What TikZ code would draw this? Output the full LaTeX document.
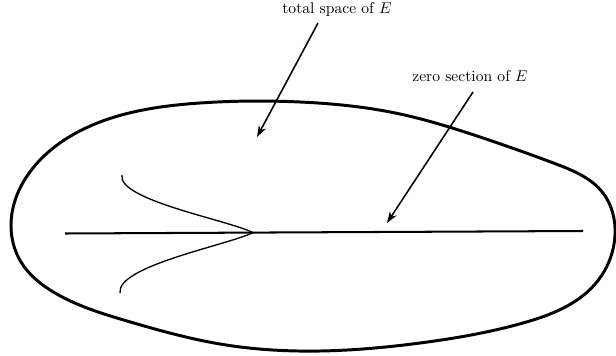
\documentclass[tikz,border=0pt]{standalone}
\usepackage{amsmath}
\usepackage{tikz}
\usetikzlibrary{arrows.meta, positioning, hobby}
\tikzset{
	outline/.style  ={line width=1.9pt, line join=round, use Hobby shortcut, closed=true},
	zerosec/.style  ={line width=1.3pt},
	fibre/.style    ={line width=0.85pt},
	pointer/.style  ={-{Stealth[length=2.6mm, width=1.8mm]}, line width=1.0pt},
	lbl/.style      ={inner sep=1pt, font=\normalsize},
}
\begin{document}
\begin{tikzpicture}[x=0.0225cm, y=-0.0225cm]
	\useasboundingbox (0,0) rectangle (616,355);
	% total space
	\draw[outline] (11,225) .. (40,160) .. (100,122) .. (200,103) .. (300,102)
		.. (400,114) .. (480,137) .. (556,164) .. (603,193) .. (615,235)
		.. (596,283) .. (523,323) .. (420,343) .. (320,351) .. (220,344)
		.. (127,321) .. (55,293) .. (21,262);
	% zero section and a fibre-like curve
	\coordinate (zsL) at (65,233.5);
	\coordinate (zsR) at (583,231);
	\coordinate (cusp) at (253,232.6);
	\draw[zerosec] (zsL) -- (zsR);
	\draw[fibre] (122,175) .. controls (117,200) and (228,220) .. (cusp);
	\draw[fibre] (120,293) .. controls (116,266) and (228,245) .. (cusp);
	% labels
	\node[lbl] (ts) at (337,10) {total space of $E$};
	\node[lbl] (zs) at (470,76) {zero section of $E$};
	\coordinate (tsFrom) at (318,23);
	\coordinate (tsTo) at (257,137);
	\coordinate (zsFrom) at (473,92);
	\coordinate (zsTo) at (387,223);
	\draw[pointer] (tsFrom) -- (tsTo);
	\draw[pointer] (zsFrom) -- (zsTo);
\end{tikzpicture}
\end{document}
